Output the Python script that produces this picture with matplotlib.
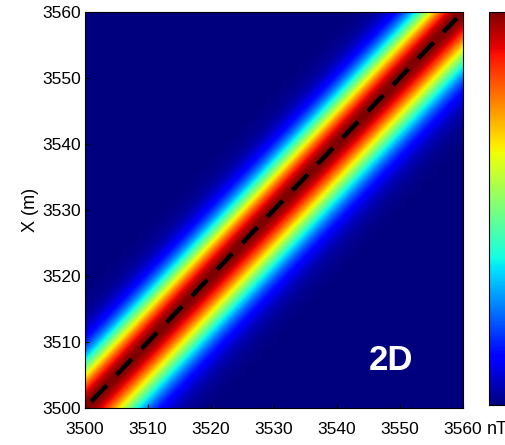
import numpy as np
import matplotlib
matplotlib.use("Agg")
from matplotlib import pyplot as plt

plt.rcParams['font.family'] = ['Liberation Sans', 'DejaVu Sans']

# grid (m) and anomaly model parameters
x_min, x_max = 3500, 3560
y_min, y_max = 3500, 3560
grid_step = 0.25
peak_nT = 10.0        # anomaly at the line
sigma_upper_m = 5.2   # half-width on the upper-left side of the band
sigma_lower_m = 6.0   # half-width on the lower-right side of the band
line_start = [3501, 3501]
line_end = [3559, 3559]
x_ticks = [3500, 3510, 3520, 3530, 3540, 3550, 3560]
y_ticks = [3500, 3510, 3520, 3530, 3540, 3550, 3560]

xx = np.arange(x_min, x_max + grid_step, grid_step)
ee = np.arange(y_min, y_max + grid_step, grid_step)
E, X = np.meshgrid(ee, xx)
offset = E - X
sigma = np.where(offset > 0, sigma_lower_m, sigma_upper_m)
field = peak_nT * np.exp(-offset ** 2 / (2 * sigma ** 2))

fig = plt.figure(figsize=(5.06, 4.45), dpi=100)
ax = fig.add_axes([0.168, 0.083, 0.747, 0.891])
im = ax.imshow(field, origin='lower', cmap='jet', aspect='auto',
               extent=[y_min, y_max, x_min, x_max],
               vmin=0, vmax=peak_nT, interpolation='bilinear')

# dashed trace of the source line
ax.plot([line_start[0], line_end[0]], [line_start[1], line_end[1]],
        color='black', lw=3.2, dashes=(5, 3.2), solid_capstyle='butt')

ax.set_xlim(x_min, x_max)
ax.set_ylim(y_min, y_max)
ax.set_xticks(x_ticks)
ax.set_yticks(y_ticks)
ax.tick_params(direction='in', length=3, labelsize=12.5, pad=3)
ax.tick_params(axis='x', pad=10)
ax.set_ylabel('X (m)', fontsize=13, labelpad=2)
ax.text(0.81, 0.12, '2D', transform=ax.transAxes, color='white',
        fontsize=25, fontweight='bold', ha='center', va='center')

# colorbar partly outside the figure, as in the cropped original
cax = fig.add_axes([0.966, 0.09, 0.06, 0.883])
cb = fig.colorbar(im, cax=cax)
cb.set_ticks([])
fig.text(0.963, 0.015, 'nT', fontsize=13, ha='left', va='bottom')

plt.savefig('out.png', dpi=100)
